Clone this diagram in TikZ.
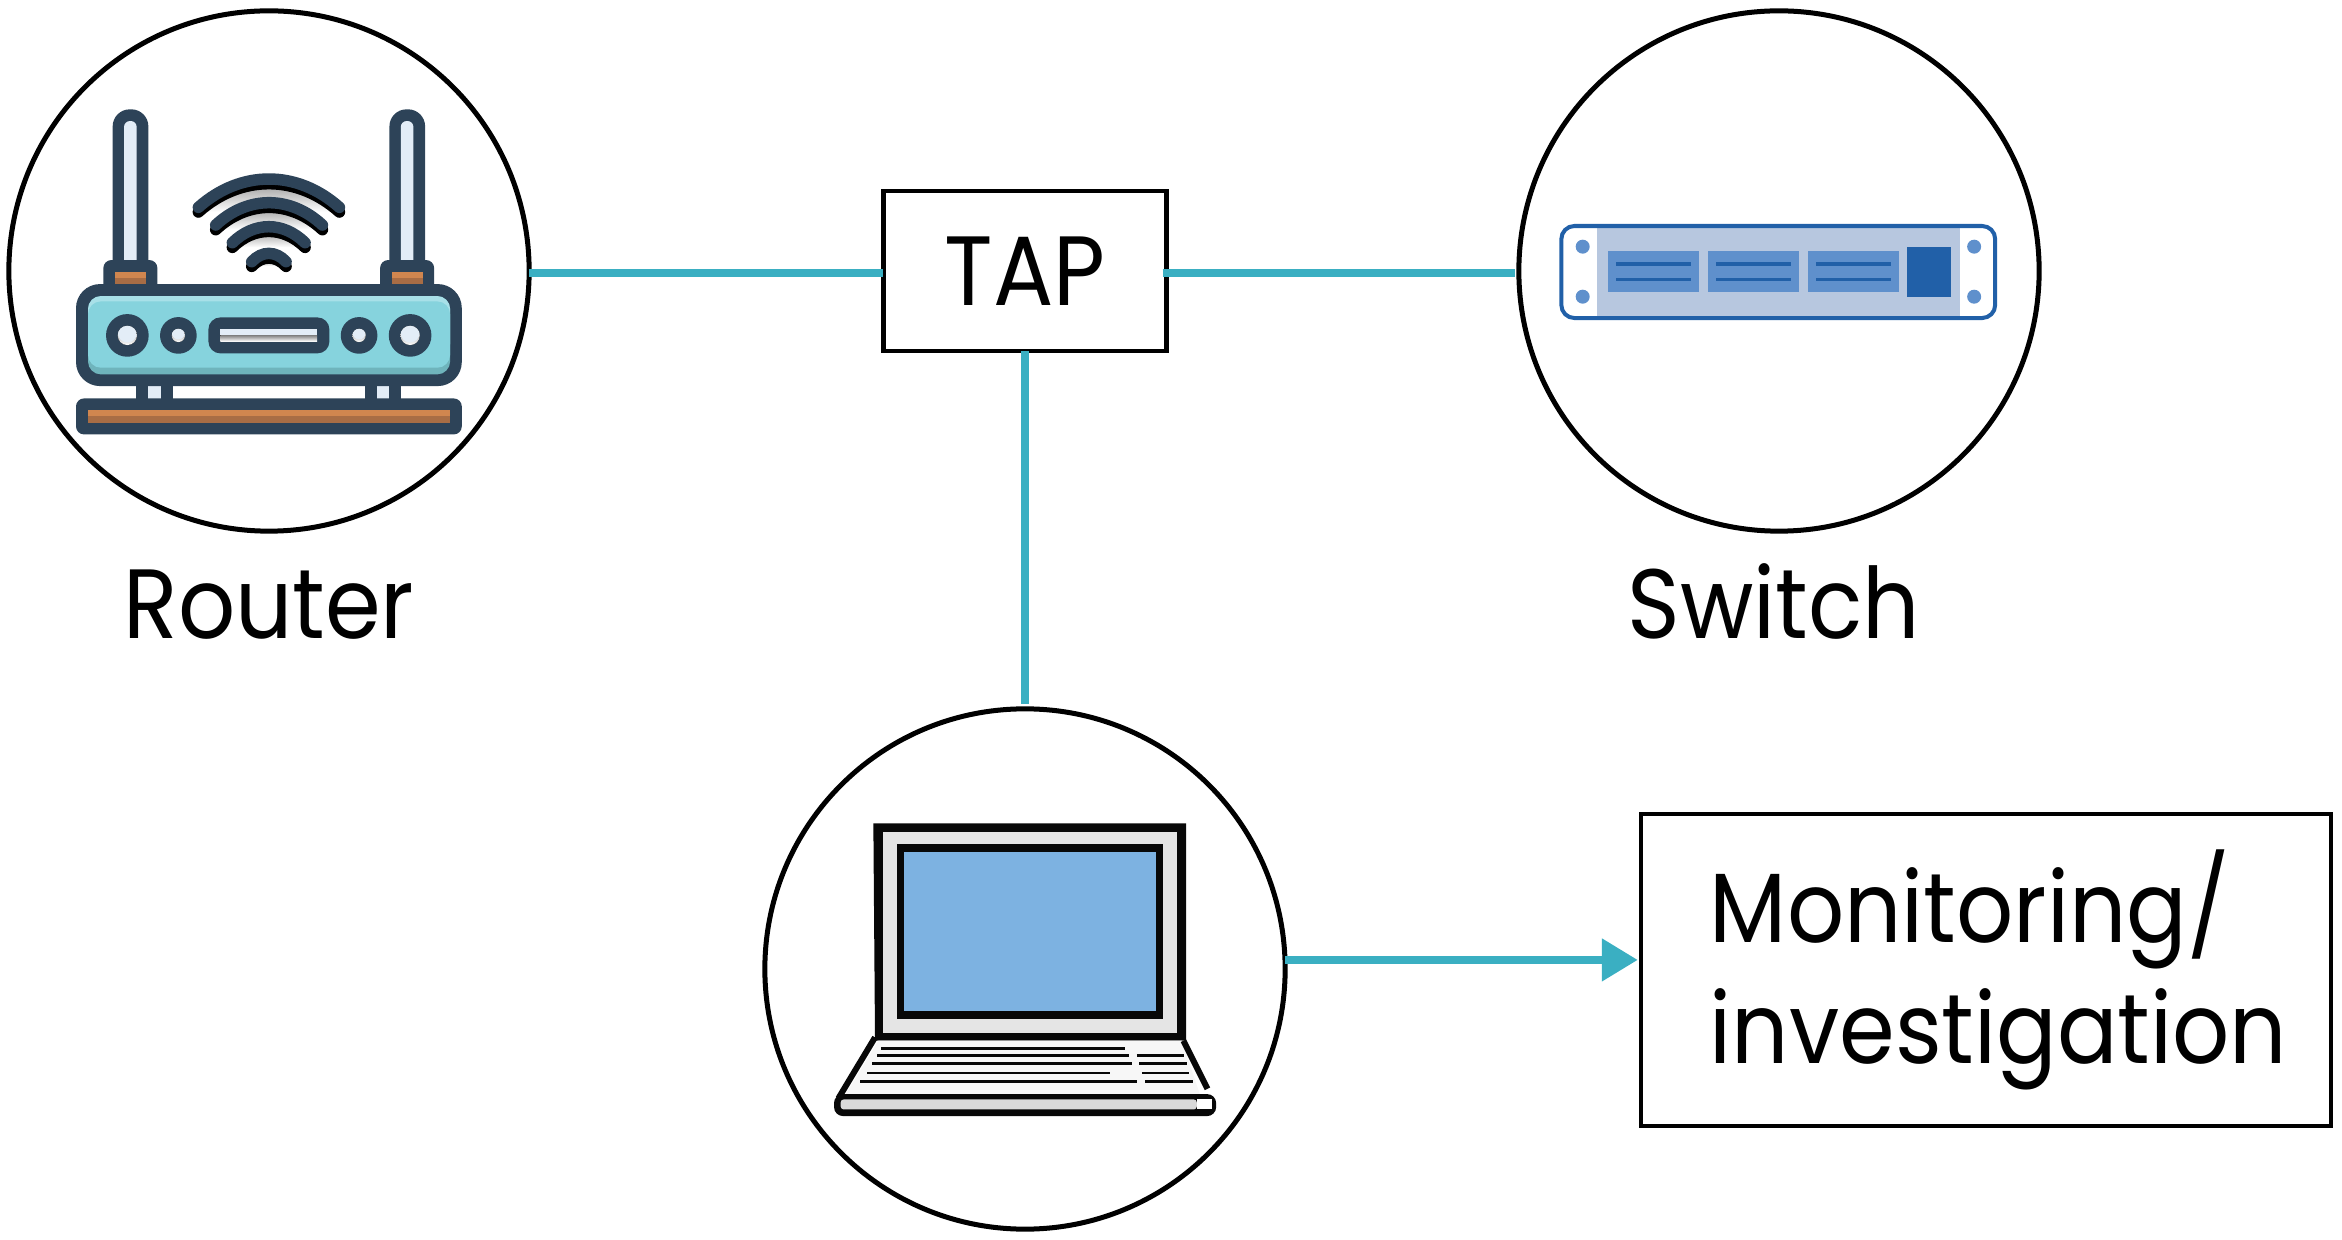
\documentclass[tikz,border=0pt]{standalone}
\usepackage{fontspec}
\setmainfont{Poppins}[FakeStretch=0.91]
\usetikzlibrary{arrows.meta,positioning}
\definecolor{navy}{HTML}{2D4358}
\definecolor{pale}{HTML}{E3EDF7}
\definecolor{shade}{HTML}{BEC4CB}
\definecolor{aqua}{HTML}{86D3DD}
\definecolor{aquahi}{HTML}{A8E0E8}
\definecolor{aqualo}{HTML}{6FB4BC}
\definecolor{copper}{HTML}{D0864F}
\definecolor{copperlo}{HTML}{A86D45}
\definecolor{swblue}{HTML}{2160A8}
\definecolor{swmid}{HTML}{5F90CC}
\definecolor{swpale}{HTML}{B7C7DF}
\definecolor{wire}{HTML}{3AAFC2}
\definecolor{lcd}{HTML}{7DB2E1}
\tikzset{
  hub/.style={circle,draw=black,line width=0.05cm,minimum size=5.2cm,inner sep=0pt,outer sep=0pt},
  boxed/.style={draw=black,line width=0.045cm,inner sep=0pt,outer sep=0pt,font=\biglabel},
  caption/.style={anchor=base,inner sep=0pt,font=\biglabel},
  wirelink/.style={wire,line width=0.08cm},
  icon/.style={x=0.03333mm,y=-0.03333mm},
}
\newcommand{\biglabel}{\fontsize{28}{34.2}\selectfont}
\begin{document}
\begin{tikzpicture}[x=0.01cm,y=-0.01cm]
  \useasboundingbox (0,0) rectangle (2342,1240);
  \node[hub] (router) at (269,271) {};
  \node[hub] (switch) at (1779,271) {};
  \node[hub] (laptop) at (1025,969) {};
  \node[boxed,minimum width=2.83cm,minimum height=1.60cm] (tap) at (1025,271) {TAP};
  \node[boxed,minimum width=6.90cm,minimum height=3.12cm,text width=5.52cm,align=left] (monitor) at (1986,970)
    {Monitoring/\\investigation};
  \node[caption] (routerlab) at (269,639) {Router};
  \node[caption] (switchlab) at (1774,639) {Switch};
  \coordinate (wirey) at (0,273.5);
  \coordinate (arrowend) at (laptop.2.2 -| monitor.west);
  \draw[wirelink] (router.east |- wirey) -- (tap.west |- wirey);
  \draw[wirelink,shorten <=-0.04cm,shorten >=0.04cm] (tap.east |- wirey) -- (switch.west |- wirey);
  \draw[wirelink,shorten >=0.05cm] (tap.south) -- (laptop.north);
  \draw[wirelink,shorten >=0.03cm,-{Triangle[length=0.36cm,width=0.41cm]}] (laptop.2.2) -- (arrowend);
  % router icon, numbers in 3x crop units
  \begin{scope}[shift={(60,90)},icon]
    \foreach \ax in {0,830}{
      \fill[navy,rounded corners=0.17cm] (158+\ax,58) rectangle (265+\ax,560);
      \fill[pale,rounded corners=0.06cm] (192+\ax,93) rectangle (230+\ax,530);
      \fill[navy,rounded corners=0.08cm] (130+\ax,510) rectangle (292+\ax,620);
      \fill[copper] (165+\ax,545) rectangle (258+\ax,583);
      \fill[copperlo] (165+\ax,565) rectangle (258+\ax,583);
    }
    \foreach \fx in {0,686}{
      \fill[navy] (229+\fx,880) rectangle (338+\fx,940);
      \fill[pale] (264+\fx,880) rectangle (302+\fx,926);
    }
    \fill[navy,rounded corners=0.08cm] (48,925) rectangle (1205,1033);
    \fill[copper] (84,960) rectangle (1170,998);
    \fill[copperlo] (84,978) rectangle (1170,998);
    \fill[navy,rounded corners=0.24cm] (48,582) rectangle (1205,888);
    \fill[aqualo,rounded corners=0.13cm] (84,618) rectangle (1170,853);
    \fill[aquahi,rounded corners=0.13cm] (84,618) rectangle (1170,800);
    \fill[aqua,rounded corners=0.13cm] (84,634) rectangle (1170,833);
    \foreach \kx/\kr/\ki in {202/64/29,355/55/20,897/55/20,1050/64/29}{
      \fill[navy] (\kx,736) circle (\kr);
      \fill[shade] (\kx,736) circle (\ki);
      \begin{scope}
        \clip (\kx,736) circle (\ki);
        \fill[pale] (\kx,728) circle (\ki);
      \end{scope}
    }
    \fill[navy,rounded corners=0.12cm] (445,682) rectangle (808,790);
    \fill[pale] (481,717) rectangle (771,754);
    \fill[shade] (481,735) rectangle (771,754);
    % shadow first, then the arc on top
    \foreach \wa/\wb/\wm/\wy in {415/838/267/352,467/787/338/405,517/735/410/458,575/678/490/515}{
      \draw[shade,line width=0.115cm,line cap=round]
        (\wa,\wy+14) .. controls (\wa+0.3*\wb-0.3*\wa,{(4*\wm-\wy)/3+14})
        and (\wb-0.3*\wb+0.3*\wa,{(4*\wm-\wy)/3+14}) .. (\wb,\wy+14);
      \draw[navy,line width=0.115cm,line cap=round]
        (\wa,\wy) .. controls (\wa+0.3*\wb-0.3*\wa,{(4*\wm-\wy)/3})
        and (\wb-0.3*\wb+0.3*\wa,{(4*\wm-\wy)/3}) .. (\wb,\wy);
    }
  \end{scope}
  % switch icon
  \begin{scope}[shift={(1540,200)},icon]
    \fill[swpale] (170,78) rectangle (1260,352);
    \draw[swblue,line width=0.04cm,rounded corners=0.13cm] (64,78) rectangle (1365,354);
    \foreach \sx/\sy in {128/140,128/290,1302/140,1302/290}
      \fill[swmid] (\sx,\sy) circle (21);
    \foreach \mx in {204,504,804}{
      \fill[swmid] (\mx,153) rectangle (\mx+272,277);
      \fill[swblue] (\mx+24,187) rectangle (\mx+248,197);
      \fill[swblue] (\mx+24,233) rectangle (\mx+248,243);
    }
    \fill[swblue] (1102,140) rectangle (1232,292);
  \end{scope}
  % laptop icon
  \begin{scope}[shift={(810,800)},icon]
    \fill[black!97] (190,70) -- (1128,70) -- (1128,722) -- (195,722) -- cycle;
    \fill[black!10] (220,95) rectangle (1100,698);
    \fill[black!97] (260,133) rectangle (1060,657);
    \fill[lcd] (283,155) rectangle (1038,632);
    \fill[black!3] (205,722) -- (1115,722) -- (1170,885) -- (105,885) -- cycle;
    \draw[black!97,line width=0.06cm] (195,712) -- (85,895);
    \draw[black!97,line width=0.06cm] (1120,722) -- (1192,866);
    \foreach \ya/\xa/\xb in {745/213/945,767/201/957,791/187/965,819/171/901,845/151/980,
                             767/980/1122,791/988/1130,819/995/1137,845/1005/1148}
      \draw[black!97,line width=0.027cm] (\xa,\ya) -- (\xb,\ya);
    \fill[black!97,rounded corners=0.09cm] (72,882) rectangle (1218,948);
    \fill[black!15,rounded corners=0.03cm] (92,898) rectangle (1160,928);
    \fill[white] (1160,898) rectangle (1205,928);
  \end{scope}
\end{tikzpicture}
\end{document}
